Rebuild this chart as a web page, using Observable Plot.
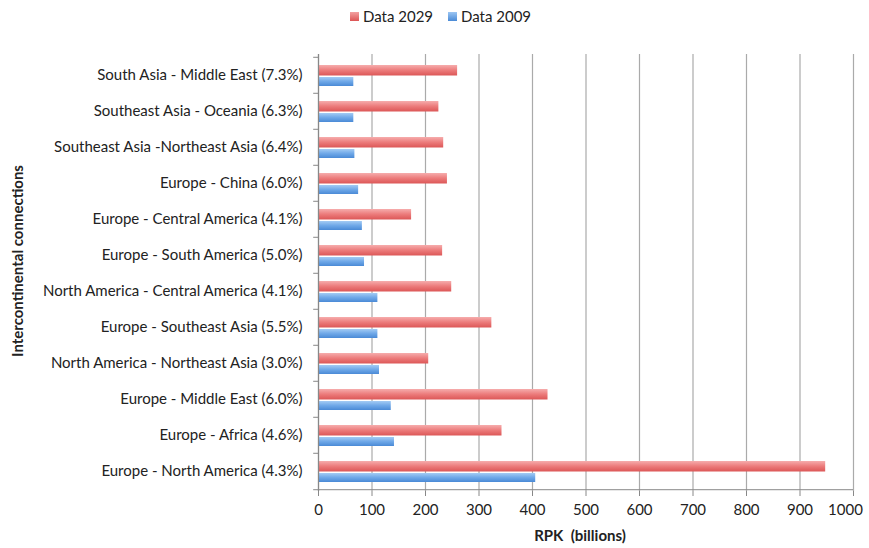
<!DOCTYPE html>
<html>
<head>
<meta charset="utf-8">
<script src="https://cdn.jsdelivr.net/npm/d3@7"></script>
<script src="https://cdn.jsdelivr.net/npm/@observablehq/plot@0.6"></script>
<style>
  body { margin: 0; background: #fff; font-family: Lato, "Open Sans", sans-serif; }
  #legend { height: 32px; position: relative; font-size: 15px; color: #222; }
  .item { position: absolute; top: 7px; display: flex; align-items: center; }
  .sw { width: 9px; height: 9px; margin-right: 4px; }
</style>
</head>
<body>
<div id="legend">
  <div class="item" style="left:350px"><div class="sw" style="background:linear-gradient(#f3a0a0,#dc5555)"></div>Data 2029</div>
  <div class="item" style="left:448px"><div class="sw" style="background:linear-gradient(#9cc6f3,#4a8ad6)"></div>Data 2009</div>
</div>
<div id="chart"></div>
<script>
const categories = [
  "South Asia - Middle East (7.3%)",
  "Southeast Asia - Oceania (6.3%)",
  "Southeast Asia -Northeast Asia (6.4%)",
  "Europe - China (6.0%)",
  "Europe - Central America (4.1%)",
  "Europe - South America (5.0%)",
  "North America - Central America (4.1%)",
  "Europe - Southeast Asia (5.5%)",
  "North America - Northeast Asia (3.0%)",
  "Europe - Middle East (6.0%)",
  "Europe - Africa (4.6%)",
  "Europe - North America (4.3%)"
];
const data2029 = [260, 225, 234, 241, 174, 232, 249, 324, 206, 429, 343, 948];
const data2009 = [66, 66, 68, 75, 82, 86, 111, 111, 114, 136, 142, 406];
const xTicks = [0, 100, 200, 300, 400, 500, 600, 700, 800, 900, 1000];

const rows29 = categories.map((c, i) => ({cat: c, v: data2029[i]}));
const rows09 = categories.map((c, i) => ({cat: c, v: data2009[i]}));

const H = 516, MT = 22, MB = 57;
const bw = (H - MT - MB) / categories.length;

const chart = Plot.plot({
  width: 869,
  height: H,
  marginLeft: 318,
  marginRight: 16,
  marginTop: MT,
  marginBottom: MB,
  style: {fontFamily: "Lato, 'Open Sans', sans-serif", fontSize: "15px", color: "#222", background: "#fff"},
  x: {domain: [0, 1000], axis: null},
  y: {domain: categories, padding: 0, axis: null},
  marks: [
    Plot.gridX(xTicks, {stroke: "#aaa", strokeOpacity: 1, strokeWidth: 1.2}),
    Plot.barX(rows29, {y: "cat", x: "v", fill: "url(#gRed)", insetTop: 8, insetBottom: 17.5}),
    Plot.barX(rows09, {y: "cat", x: "v", fill: "url(#gBlue)", insetTop: 20, insetBottom: 7}),
    Plot.ruleX([0], {stroke: "#888", strokeWidth: 1.2}),
    Plot.ruleY(categories, {y: d => d, x1: -9, x2: 0, dy: -bw / 2, stroke: "#888", clip: false}),
    Plot.ruleY(categories.slice(-1), {y: d => d, x1: -9, x2: 1000, dy: bw / 2, stroke: "#888"}),
    Plot.axisY({tickSize: 0, tickPadding: 16, fontSize: 15, fill: "#222", label: null}),
    Plot.axisX({ticks: xTicks, tickFormat: null, text: null, tickSize: 5, stroke: "#888", label: null}),
    Plot.axisX({ticks: xTicks.slice(0, -1), tickFormat: d => String(d), tickSize: 0, tickPadding: 13, fontSize: 15, fill: "#222", label: null}),
    Plot.axisX({ticks: xTicks.slice(-1), tickFormat: d => String(d), tickSize: 0, tickPadding: 13, dx: -8, fontSize: 15, fill: "#222", label: null}),
    Plot.text(["RPK  (billions)"], {frameAnchor: "bottom", dx: -6, dy: 49, text: d => d, fontWeight: "bold", fontSize: 15, fill: "#222"}),
    Plot.text(["Intercontinental connections"], {frameAnchor: "left", textAnchor: "middle", dx: -300, dy: -12, rotate: -90, text: d => d, fontWeight: "bold", fontSize: 15, fill: "#222"})
  ]
});

const ns = "http://www.w3.org/2000/svg";
const defs = document.createElementNS(ns, "defs");
function grad(id, stops) {
  const g = document.createElementNS(ns, "linearGradient");
  g.setAttribute("id", id);
  g.setAttribute("x1", "0"); g.setAttribute("y1", "0");
  g.setAttribute("x2", "0"); g.setAttribute("y2", "1");
  stops.forEach(([o, c]) => {
    const s = document.createElementNS(ns, "stop");
    s.setAttribute("offset", o);
    s.setAttribute("stop-color", c);
    g.appendChild(s);
  });
  defs.appendChild(g);
}
grad("gRed", [["0", "#f6adad"], ["0.5", "#ec7b7b"], ["1", "#dc5757"]]);
grad("gBlue", [["0", "#a3cbf4"], ["0.5", "#6fa8e8"], ["1", "#4a8ad6"]]);
chart.insertBefore(defs, chart.firstChild);
document.getElementById("chart").appendChild(chart);
</script>
</body>
</html>
